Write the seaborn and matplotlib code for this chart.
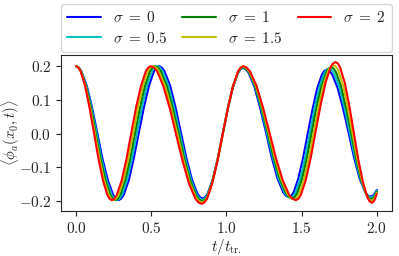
import matplotlib
matplotlib.use("Agg")
import matplotlib.pyplot as plt
import seaborn as sns
import pandas as pd

# values, one (t, value) list per sigma
sigmas = ["0", "0.5", "1", "1.5", "2"]
colors = ["b", "c", "g", "y", "r"]

t_s0 = [0, 0.018, 0.035, 0.071, 0.106, 0.141, 0.176, 0.212, 0.247, 0.264, 0.282,
        0.299, 0.316, 0.350, 0.383, 0.417, 0.451, 0.485, 0.518, 0.535, 0.552,
        0.570, 0.588, 0.625, 0.661, 0.697, 0.733, 0.770, 0.806, 0.824, 0.842,
        0.859, 0.876, 0.909, 0.943, 0.976, 1.010, 1.043, 1.077, 1.094, 1.110,
        1.129, 1.148, 1.186, 1.224, 1.263, 1.301, 1.339, 1.377, 1.396, 1.415,
        1.431, 1.447, 1.478, 1.510, 1.541, 1.573, 1.604, 1.636, 1.652, 1.667,
        1.685, 1.703, 1.740, 1.776, 1.813, 1.849, 1.885, 1.922, 1.940, 1.958,
        1.979, 2.000]
v_s0 = [0.200, 0.196, 0.185, 0.142, 0.078, 0.002, -0.075, -0.139, -0.182, -0.193, -0.197,
        -0.193, -0.182, -0.139, -0.075, 0.002, 0.078, 0.142, 0.185, 0.196, 0.200,
        0.196, 0.185, 0.143, 0.079, 0.004, -0.071, -0.135, -0.177, -0.188, -0.192,
        -0.188, -0.177, -0.135, -0.073, 0.002, 0.076, 0.138, 0.180, 0.191, 0.195,
        0.191, 0.180, 0.139, 0.077, 0.004, -0.070, -0.132, -0.173, -0.184, -0.188,
        -0.184, -0.174, -0.133, -0.071, 0.001, 0.073, 0.135, 0.176, 0.186, 0.190,
        0.186, 0.176, 0.135, 0.074, 0.002, -0.071, -0.132, -0.173, -0.183, -0.187,
        -0.182, -0.167]

t_s05 = [0, 0.017, 0.034, 0.068, 0.102, 0.136, 0.169, 0.203, 0.237, 0.254, 0.271,
         0.288, 0.304, 0.338, 0.371, 0.405, 0.438, 0.471, 0.505, 0.521, 0.538,
         0.557, 0.576, 0.614, 0.651, 0.689, 0.727, 0.765, 0.802, 0.821, 0.840,
         0.857, 0.874, 0.908, 0.942, 0.976, 1.009, 1.043, 1.077, 1.094, 1.111,
         1.131, 1.151, 1.190, 1.230, 1.269, 1.309, 1.348, 1.388, 1.408, 1.427,
         1.443, 1.459, 1.491, 1.523, 1.555, 1.586, 1.618, 1.650, 1.666, 1.682,
         1.700, 1.717, 1.752, 1.786, 1.821, 1.856, 1.891, 1.925, 1.943, 1.960,
         1.980, 2.000]
v_s05 = [0.200, 0.196, 0.185, 0.142, 0.078, 0.002, -0.075, -0.139, -0.182, -0.193, -0.197,
         -0.193, -0.182, -0.139, -0.075, 0.002, 0.078, 0.142, 0.185, 0.196, 0.200,
         0.196, 0.185, 0.142, 0.078, 0.002, -0.074, -0.138, -0.181, -0.192, -0.196,
         -0.192, -0.181, -0.139, -0.075, 0.000, 0.075, 0.139, 0.181, 0.192, 0.196,
         0.192, 0.181, 0.140, 0.077, 0.003, -0.071, -0.134, -0.175, -0.186, -0.190,
         -0.186, -0.175, -0.134, -0.072, 0.002, 0.075, 0.137, 0.178, 0.189, 0.193,
         0.189, 0.178, 0.137, 0.075, 0.002, -0.072, -0.134, -0.175, -0.186, -0.190,
         -0.185, -0.169]

t_s1 = [0, 0.016, 0.033, 0.065, 0.098, 0.130, 0.163, 0.195, 0.228, 0.244, 0.260,
        0.277, 0.293, 0.326, 0.359, 0.392, 0.425, 0.458, 0.491, 0.508, 0.524,
        0.544, 0.563, 0.603, 0.642, 0.682, 0.721, 0.760, 0.800, 0.820, 0.839,
        0.856, 0.873, 0.907, 0.941, 0.975, 1.009, 1.043, 1.077, 1.094, 1.111,
        1.131, 1.152, 1.193, 1.234, 1.275, 1.315, 1.356, 1.397, 1.417, 1.438,
        1.454, 1.470, 1.503, 1.535, 1.567, 1.599, 1.632, 1.664, 1.680, 1.696,
        1.713, 1.729, 1.763, 1.796, 1.830, 1.863, 1.896, 1.930, 1.947, 1.963,
        1.982, 2.000]
v_s1 = [0.200, 0.196, 0.185, 0.142, 0.078, 0.002, -0.075, -0.139, -0.182, -0.193, -0.197,
        -0.193, -0.182, -0.139, -0.075, 0.002, 0.078, 0.142, 0.185, 0.196, 0.200,
        0.196, 0.185, 0.141, 0.077, 0.000, -0.077, -0.141, -0.185, -0.196, -0.200,
        -0.196, -0.185, -0.142, -0.078, -0.002, 0.075, 0.139, 0.182, 0.193, 0.197,
        0.193, 0.182, 0.140, 0.077, 0.003, -0.072, -0.135, -0.177, -0.188, -0.192,
        -0.188, -0.177, -0.135, -0.072, 0.003, 0.077, 0.140, 0.182, 0.193, 0.197,
        0.193, 0.182, 0.140, 0.076, 0.002, -0.073, -0.137, -0.179, -0.190, -0.194,
        -0.189, -0.172]

t_s15 = [0, 0.016, 0.031, 0.062, 0.093, 0.125, 0.156, 0.187, 0.218, 0.234, 0.249,
         0.265, 0.282, 0.314, 0.347, 0.380, 0.412, 0.445, 0.477, 0.494, 0.510,
         0.531, 0.551, 0.592, 0.633, 0.674, 0.715, 0.756, 0.797, 0.817, 0.838,
         0.855, 0.872, 0.906, 0.940, 0.975, 1.009, 1.043, 1.077, 1.094, 1.111,
         1.132, 1.153, 1.196, 1.238, 1.281, 1.323, 1.365, 1.408, 1.429, 1.450,
         1.466, 1.483, 1.515, 1.548, 1.581, 1.613, 1.646, 1.678, 1.694, 1.711,
         1.727, 1.743, 1.775, 1.806, 1.838, 1.870, 1.902, 1.933, 1.949, 1.965,
         1.983, 2.000]
v_s15 = [0.200, 0.196, 0.185, 0.142, 0.078, 0.002, -0.075, -0.139, -0.182, -0.193, -0.197,
         -0.193, -0.182, -0.139, -0.075, 0.002, 0.078, 0.142, 0.185, 0.196, 0.200,
         0.196, 0.185, 0.141, 0.075, -0.002, -0.079, -0.145, -0.189, -0.200, -0.204,
         -0.200, -0.189, -0.145, -0.080, -0.003, 0.075, 0.140, 0.184, 0.195, 0.199,
         0.195, 0.184, 0.141, 0.077, 0.002, -0.073, -0.137, -0.180, -0.191, -0.195,
         -0.191, -0.180, -0.137, -0.072, 0.004, 0.080, 0.145, 0.188, 0.199, 0.203,
         0.199, 0.188, 0.144, 0.079, 0.002, -0.075, -0.140, -0.184, -0.195, -0.199,
         -0.193, -0.175]

t_s2 = [0, 0.015, 0.030, 0.060, 0.089, 0.119, 0.149, 0.179, 0.208, 0.223, 0.238,
        0.254, 0.270, 0.303, 0.335, 0.367, 0.399, 0.432, 0.464, 0.480, 0.496,
        0.517, 0.539, 0.581, 0.624, 0.666, 0.709, 0.751, 0.794, 0.815, 0.836,
        0.853, 0.871, 0.905, 0.940, 0.974, 1.009, 1.043, 1.078, 1.095, 1.112,
        1.134, 1.156, 1.200, 1.243, 1.287, 1.331, 1.375, 1.418, 1.440, 1.462,
        1.478, 1.495, 1.528, 1.561, 1.594, 1.627, 1.660, 1.693, 1.709, 1.726,
        1.741, 1.756, 1.787, 1.817, 1.847, 1.877, 1.908, 1.938, 1.953, 1.968,
        1.984, 2.000]
v_s2 = [0.200, 0.196, 0.185, 0.142, 0.078, 0.002, -0.075, -0.139, -0.182, -0.193, -0.197,
        -0.193, -0.182, -0.139, -0.075, 0.002, 0.078, 0.142, 0.185, 0.196, 0.200,
        0.196, 0.185, 0.140, 0.074, -0.004, -0.082, -0.148, -0.193, -0.204, -0.208,
        -0.204, -0.193, -0.148, -0.082, -0.004, 0.074, 0.140, 0.185, 0.196, 0.200,
        0.196, 0.185, 0.142, 0.078, 0.002, -0.075, -0.139, -0.182, -0.193, -0.197,
        -0.193, -0.182, -0.137, -0.071, 0.008, 0.086, 0.152, 0.197, 0.208, 0.212,
        0.208, 0.196, 0.151, 0.083, 0.004, -0.076, -0.144, -0.189, -0.201, -0.205,
        -0.198, -0.178]

times = [t_s0, t_s05, t_s1, t_s15, t_s2]
values = [v_s0, v_s05, v_s1, v_s15, v_s2]

sns.set_style("ticks")
plt.rcParams["font.family"] = "serif"
plt.rcParams["font.serif"] = ["cmr10"]
plt.rcParams["mathtext.fontset"] = "cm"
plt.rcParams["axes.formatter.use_mathtext"] = True
plt.rcParams["font.size"] = 11

fig = plt.figure(figsize=(3.99, 2.56), dpi=100)
ax = fig.add_axes([0.153, 0.176, 0.829, 0.609])

for sig, col, t, v in zip(sigmas, colors, times, values):
    df = pd.DataFrame({"t": t, "phi": v})
    sns.lineplot(data=df, x="t", y="phi", ax=ax, color=col, lw=1.5,
                 estimator=None, sort=False, label=rf"$\sigma\;=\;{sig}$")

ax.set_xticks([0.0, 0.5, 1.0, 1.5, 2.0])
ax.set_yticks([-0.2, -0.1, 0.0, 0.1, 0.2])
ax.set_xlabel(r"$t/t_{\mathrm{tr.}}$", labelpad=1, fontsize=11)
ax.set_ylabel(r"$\langle \phi_a(x_0,t) \rangle$", fontsize=10.5)
ax.yaxis.set_label_coords(-0.118, 0.5)
ax.tick_params(labelsize=11, length=3.5, pad=3.5)
ax.legend(loc="lower left", bbox_to_anchor=(0, 1.02, 1, 0.3), mode="expand",
          ncol=3, borderaxespad=0, fontsize=11, handlelength=2.2,
          borderpad=0.4, labelspacing=0.35)

fig.savefig("out.png", dpi=100)
